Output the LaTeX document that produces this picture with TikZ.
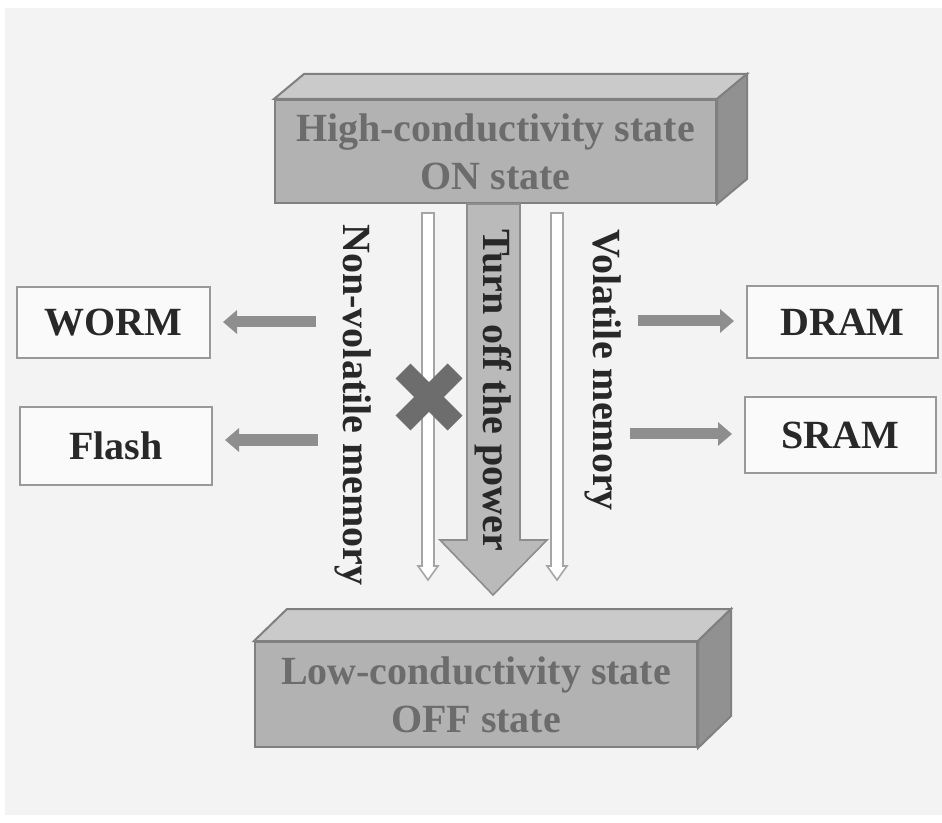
\documentclass[tikz,border=0pt]{standalone}
\usepackage{fontspec}
\setmainfont{Liberation Serif}
\usetikzlibrary{arrows.meta,positioning,calc}

\definecolor{paper}{RGB}{243,243,243}
\definecolor{slabfront}{RGB}{178,178,178}
\definecolor{slabtop}{RGB}{202,202,202}
\definecolor{slabside}{RGB}{145,145,145}
\definecolor{slabline}{RGB}{128,128,128}
\definecolor{slabtext}{RGB}{108,108,108}
\definecolor{arrowgray}{RGB}{142,142,142}
\definecolor{inkgray}{RGB}{40,40,40}

\tikzset{
    slab/.style={draw=slabline, fill=slabfront, line width=1pt, text=slabtext,
        align=center, inner sep=0pt},
    membox/.style={draw=slabline!80, fill=white!60!paper, line width=1pt,
        text=inkgray, inner sep=0pt},
    sidearrow/.style={draw=arrowgray, line width=5.5pt,
        -{Triangle[width=11.5pt,length=7pt]}, shorten >=6pt},
    thinarrow/.style={draw=arrowgray!80, fill=white, line width=0.8pt},
    vlabel/.style={rotate=-90, text=inkgray, inner sep=0pt}
}

\begin{document}
\begin{tikzpicture}[x=0.5pt, y=-0.5pt, font=\bfseries\fontsize{20}{24}\selectfont]
    % page
    \fill[white] (0,0) rectangle (942,823);
    \fill[paper] (5,8) rectangle (942,815);

    % the two slabs, front faces as nodes
    \node[slab, minimum width=220.5pt, minimum height=51.5pt] (on) at (495.5,151.5)
        {High-conductivity state\\ON state};
    \node[slab, minimum width=221pt, minimum height=52.5pt] (off) at (476,694.5)
        {Low-conductivity state\\OFF state};
    \draw[slabline, fill=slabtop, line width=1pt] (on.north west) -- ++(30,-25)
        -- ($(on.north east)+(30,-25)$) -- (on.north east) -- cycle;
    \draw[slabline, fill=slabside, line width=1pt] (on.north east) -- ++(30,-25)
        -- ($(on.south east)+(30,-25)$) -- (on.south east) -- cycle;
    \draw[slabline, fill=slabtop, line width=1pt] (off.north west) -- ++(33,-32)
        -- ($(off.north east)+(33,-32)$) -- (off.north east) -- cycle;
    \draw[slabline, fill=slabside, line width=1pt] (off.north east) -- ++(33,-32)
        -- ($(off.south east)+(33,-32)$) -- (off.south east) -- cycle;

    % big arrow between the slabs
    \draw[slabline!90, fill=slabfront!90!white, line width=0.8pt]
        (467,204) -- (520,204) -- (520,540) -- (547,540) -- (493,595)
        -- (440,540) -- (467,540) -- cycle;

    % thin hollow arrows
    \foreach \xa in {428,557}
        \draw[thinarrow] (\xa-6,213) -- (\xa+6,213) -- (\xa+6,566) -- (\xa+10,566)
            -- (\xa,580) -- (\xa-10,566) -- (\xa-6,566) -- cycle;

    % the cross
    \draw[slabline!85!black, line width=10.5pt]
        (403,371) -- (455,423) (403,423) -- (455,371);

    % vertical labels
    \node[vlabel] (nonvol) at (353,405) {Non-volatile memory};
    \node[vlabel] (power) at (493,390) {Turn off the power};
    \node[vlabel] (vol) at (603,370) {Volatile memory};

    % memory types
    \node[membox, minimum width=96.5pt, minimum height=35.5pt] (worm) at (113.5,322.5) {WORM};
    \node[membox, minimum width=96pt, minimum height=39pt] (flash) at (116,446) {Flash};
    \node[membox, minimum width=95.5pt, minimum height=36pt] (dram) at (842.5,322) {DRAM};
    \node[membox, minimum width=95.5pt, minimum height=38pt] (sram) at (840.5,435) {SRAM};

    \coordinate (wa) at (316,322);
    \coordinate (fa) at (318,440);
    \coordinate (da) at (638,321);
    \coordinate (sa) at (630,434);
    \draw[sidearrow] (wa) -- (wa -| worm.east);
    \draw[sidearrow] (fa) -- (fa -| flash.east);
    \draw[sidearrow] (da) -- (da -| dram.west);
    \draw[sidearrow] (sa) -- (sa -| sram.west);
\end{tikzpicture}
\end{document}
